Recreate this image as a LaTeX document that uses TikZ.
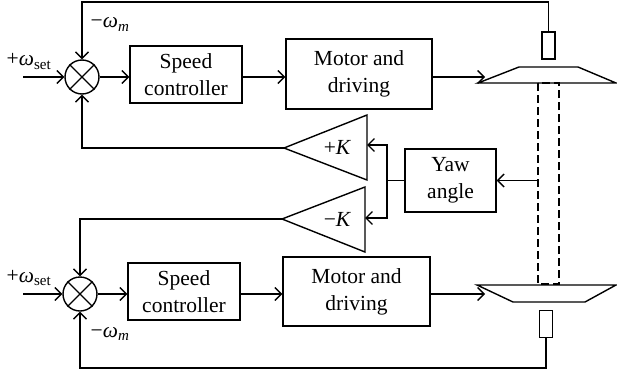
\documentclass[tikz,border=0pt]{standalone}
\usepackage{fontspec}
\setmainfont{Liberation Serif}
\usetikzlibrary{arrows.meta}
\begin{document}
\begin{tikzpicture}[x=1pt,y=-1pt,
  line width=1.4pt,
  every node/.style={font=\fontsize{21.5}{27}\selectfont, inner sep=0pt},
  arr/.style={-{Straight Barb[length=6.5pt,width=13pt,line width=1.3pt]}},
  blk/.style={draw, align=center},
  sumnode/.style={draw, circle, minimum size=34pt},
  sensor/.style={draw, minimum width=13pt, minimum height=27pt},
  lab/.style={anchor=base west}]
\useasboundingbox (0,0) rectangle (617,377);

% ---------- upper loop ----------
\node[sumnode] (sum1) at (82,77) {};
\draw (sum1.north west) -- (sum1.south east);
\draw (sum1.north east) -- (sum1.south west);
\node[blk, minimum width=112pt, minimum height=57pt] (sc1) at (186,74.5) {Speed\\controller};
\node[blk, minimum width=146pt, minimum height=70pt] (mo1) at (359,74) {Motor and\\driving};
\node[sensor] (s1) at (548.5,45.5) {};
\coordinate (in1) at (23,77);
\coordinate (d1) at (485,77);
\coordinate (t1) at (548.5,2);

\draw[arr] (in1) -- (sum1.west);
\draw[arr] (sum1.east) -- (sum1.east -| sc1.west);
\draw[arr] (sc1.east |- sum1) -- (sum1 -| mo1.west);
\draw[arr] (mo1.east |- d1) -- (d1);
\draw[arr] (s1.north) -- (t1) -| (sum1.north);

\node[lab] (l1) at (6,66) {+\textit{ω}\textsubscript{set}};
\node[lab] (l2) at (90,28) {−\textit{ω}\textsubscript{\textit{m}}};

% upper disc
\draw (478,83) -- (519,67) -- (578,67) -- (616,83) -- cycle;

% shaft
\draw[dashed, dash pattern=on 8pt off 4pt] (538,83) rectangle (559,284);

% ---------- lower loop ----------
\node[sumnode] (sum2) at (80,294) {};
\draw (sum2.north west) -- (sum2.south east);
\draw (sum2.north east) -- (sum2.south west);
\node[blk, minimum width=112pt, minimum height=57pt] (sc2) at (184,291.5) {Speed\\controller};
\node[blk, minimum width=147pt, minimum height=69pt] (mo2) at (356.5,291.5) {Motor and\\driving};
\node[sensor] (s2) at (546,324) {};
\coordinate (in2) at (23,294);
\coordinate (d2) at (485,294);
\coordinate (b2) at (546,368);

\draw[arr] (in2) -- (sum2.west);
\draw[arr] (sum2.east) -- (sum2.east -| sc2.west);
\draw[arr] (sc2.east |- sum2) -- (sum2 -| mo2.west);
\draw[arr] (mo2.east |- d2) -- (d2);
\draw[arr] (s2.south) -- (b2) -| (sum2.south);

\node[lab] (l3) at (6,282) {+\textit{ω}\textsubscript{set}};
\node[lab] (l4) at (90,337) {−\textit{ω}\textsubscript{\textit{m}}};

% lower disc
\draw (477,285) -- (616,285) -- (585,302) -- (513,302) -- cycle;

% ---------- yaw and gains ----------
\node[blk, minimum width=91pt, minimum height=63pt] (yaw) at (450.5,180.5) {Yaw\\angle};
\coordinate (shL) at (538,180.5);
\draw[arr] (shL) -- (yaw.east);

\draw (284,148) -- (367,115) -- (367,180) -- cycle;
\draw (282,219) -- (365,187) -- (365,252) -- cycle;
\coordinate (kp) at (284,148);
\coordinate (kn) at (282,219);
\coordinate (kpin) at (367,145);
\coordinate (knin) at (365,218);
\node[anchor=base] (kpl) at (337.5,154) {+\textit{K}};
\node[anchor=base] (knl) at (337.5,226) {−\textit{K}};

\coordinate (j) at (387,180.5);
\draw (yaw.west) -- (j);
\draw[arr] (j) |- (kpin);
\draw[arr] (j) |- (knin);

\draw[arr] (kp) -| (sum1.south);
\draw[arr] (kn) -| (sum2.north);
\end{tikzpicture}
\end{document}
